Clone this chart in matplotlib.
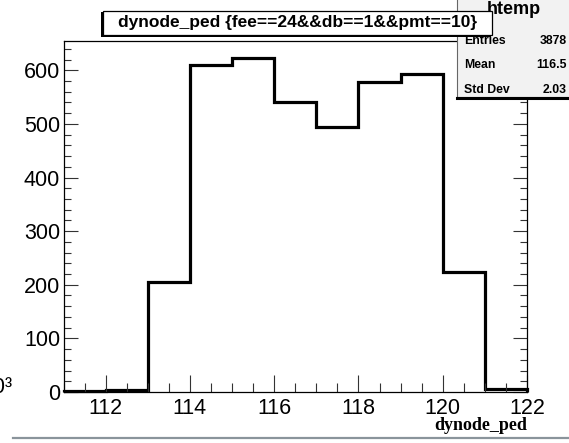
import numpy as np
import matplotlib
matplotlib.use("Agg")
import matplotlib.pyplot as plt
from matplotlib.patches import Rectangle
from matplotlib.ticker import MultipleLocator

plt.rcParams['font.family'] = ['Liberation Sans', 'DejaVu Sans']

# dynode pedestal histogram, unit-width bins from 111 to 122
bin_edges = np.arange(111, 123)
counts = [1, 3, 206, 610, 623, 540, 495, 578, 593, 223, 6]

hist_name = "htemp"
hist_title = "dynode_ped {fee==24&&db==1&&pmt==10}"
stat_labels = ["Entries", "Mean", "Std Dev"]
stat_values = ["3878", "116.5", "2.03"]

W, H = 569, 443
fig = plt.figure(figsize=(W / 100, H / 100), dpi=100)


def fx(px):
    return px / W


def fy(py):
    return 1 - py / H


ax = fig.add_axes([fx(63.5), fy(392), fx(527) - fx(63.5), fy(41.3) - fy(392)])
ax.stairs(counts, bin_edges, color='black', lw=2.3, clip_on=False)
ax.set_xlim(111, 122)
ax.set_ylim(0, 1.05 * max(counts))

ax.xaxis.set_major_locator(MultipleLocator(2))
ax.xaxis.set_minor_locator(MultipleLocator(0.5))
ax.yaxis.set_major_locator(MultipleLocator(100))
ax.yaxis.set_minor_locator(MultipleLocator(20))
ax.tick_params(axis='x', which='both', direction='in', top=False, color='#333333',
               width=0.8, labelsize=15.5, pad=4.5)
ax.tick_params(axis='x', which='major', length=12.5)
ax.tick_params(axis='x', which='minor', length=6.3)
ax.tick_params(axis='y', which='both', direction='in', right=True, color='#333333',
               width=0.8, labelsize=15.5, pad=2.5)
ax.tick_params(axis='y', which='major', length=10)
ax.tick_params(axis='y', which='minor', length=5)
for s in ax.spines.values():
    s.set_linewidth(0.9)

# axis title, right-aligned under the x axis
fig.text(fx(527), fy(425), "dynode_ped", ha='right', va='center',
         family='Liberation Serif', fontweight='bold', fontsize=13)

# exponent left over from the neighbouring pad
fig.text(fx(12), fy(393), "10\u00b3", ha='right', va='baseline', fontsize=15.5)

# pad bottom edge
fig.add_artist(plt.Line2D([fx(13), 1], [fy(438), fy(438)], color='#8a949b', lw=1.6))

# statistics box
fig.add_artist(Rectangle((fx(457), fy(97)), fx(130), fy(-10) - fy(97),
                         transform=fig.transFigure, facecolor='#f2f2f2',
                         edgecolor='#666666', lw=0.8, zorder=5))
fig.add_artist(plt.Line2D([fx(457), 1], [fy(97.5), fy(97.5)], color='black', lw=2.2, zorder=6))
fig.text(fx(514), fy(9), hist_name, ha='center', va='center', fontweight='bold',
         fontsize=13, zorder=7)
for i, (lab, val) in enumerate(zip(stat_labels, stat_values)):
    y = fy(41 + i * 24.5)
    fig.text(fx(464), y, lab, ha='left', va='center', fontweight='bold', fontsize=8.8, zorder=7)
    fig.text(fx(567), y, val, ha='right', va='center', fontweight='bold', fontsize=8.8, zorder=7)

# title box with shadow
fig.add_artist(Rectangle((fx(101), fy(36.5)), fx(390), fy(11) - fy(35),
                         transform=fig.transFigure, facecolor='black',
                         edgecolor='black', lw=0, zorder=8))
fig.add_artist(Rectangle((fx(103), fy(35)), fx(389), fy(11) - fy(35),
                         transform=fig.transFigure, facecolor='white',
                         edgecolor='black', lw=0.9, zorder=9))
fig.text(fx(297.5), fy(23), hist_title, ha='center', va='center', fontweight='bold',
         fontsize=12.5, zorder=10)

fig.savefig("out.png", dpi=100)
